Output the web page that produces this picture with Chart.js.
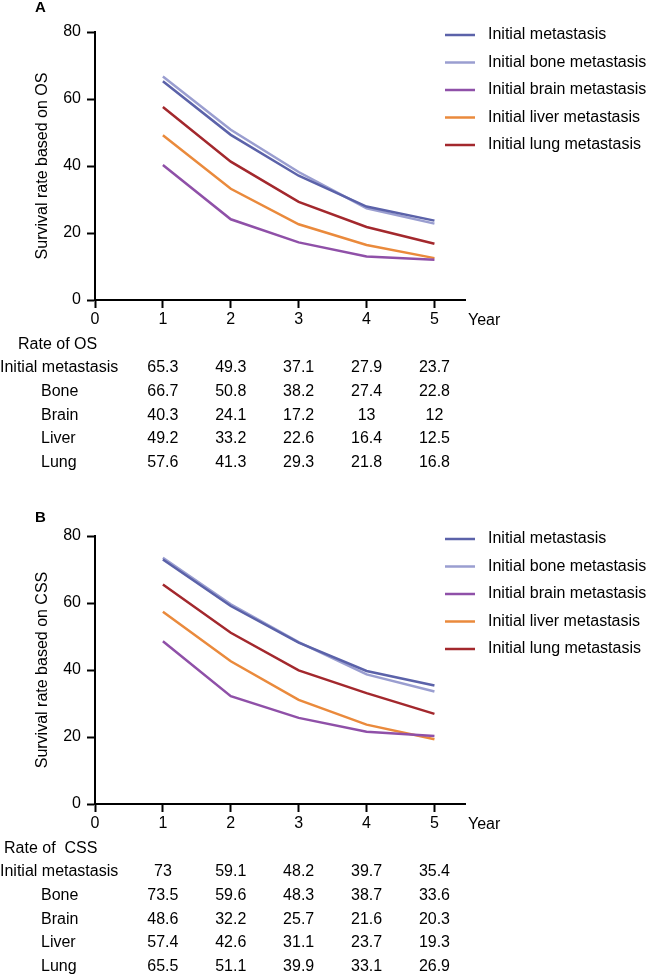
<!DOCTYPE html>
<html>
<head>
<meta charset="utf-8">
<script src="https://cdn.jsdelivr.net/npm/chart.js@4.4.0/dist/chart.umd.min.js"></script>
<style>
  html, body { margin: 0; padding: 0; background: #fff; overflow: hidden; }
  canvas { display: block; }
</style>
</head>
<body>
<canvas id="chartA" width="651" height="504"></canvas>
<canvas id="chartB" width="651" height="470"></canvas>
<script>
var years = [1, 2, 3, 4, 5];
var xTicks = [0, 1, 2, 3, 4, 5];
var yTicks = [0, 20, 40, 60, 80];
var seriesNames = ["Initial metastasis", "Initial bone metastasis", "Initial brain metastasis", "Initial liver metastasis", "Initial lung metastasis"];
var rowLabels = ["Initial metastasis", "Bone", "Brain", "Liver", "Lung"];
var colors = ["#5b62a9", "#9a9ed0", "#8f50a8", "#ea8a3c", "#a3282d"];

// rate of OS
var osInitial = [65.3, 49.3, 37.1, 27.9, 23.7];
var osBone = [66.7, 50.8, 38.2, 27.4, 22.8];
var osBrain = [40.3, 24.1, 17.2, 13, 12];
var osLiver = [49.2, 33.2, 22.6, 16.4, 12.5];
var osLung = [57.6, 41.3, 29.3, 21.8, 16.8];

// rate of CSS
var cssInitial = [73, 59.1, 48.2, 39.7, 35.4];
var cssBone = [73.5, 59.6, 48.3, 38.7, 33.6];
var cssBrain = [48.6, 32.2, 25.7, 21.6, 20.3];
var cssLiver = [57.4, 42.6, 31.1, 23.7, 19.3];
var cssLung = [65.5, 51.1, 39.9, 33.1, 26.9];

var FONT = '"Liberation Sans", Arial, sans-serif';

var extras = {
    id: 'extras',
    afterDraw: function (chart, args, o) {
        var ctx = chart.ctx;
        var xs = chart.scales.x;
        ctx.save();
        ctx.fillStyle = '#000';
        ctx.textBaseline = 'middle';
        ctx.textAlign = 'left';
        ctx.font = 'bold 15px ' + FONT;
        ctx.fillText(o.panel, 35, o.panelY);

        ctx.font = '16px ' + FONT;
        ctx.fillText('Year', 468, chart.chartArea.bottom + 21);

        // legend
        chart.data.datasets.forEach(function (ds, i) {
            var y = 35 + i * 27.5;
            ctx.strokeStyle = ds.borderColor;
            ctx.lineWidth = 2.5;
            ctx.beginPath();
            ctx.moveTo(445, y);
            ctx.lineTo(475, y);
            ctx.stroke();
            ctx.fillText(ds.label, 488, y);
        });

        // table under the axis
        ctx.fillText(o.header, o.headerX, 345);
        o.rows.forEach(function (r, i) {
            var y = 368 + i * 23.6;
            ctx.textAlign = 'left';
            ctx.fillText(rowLabels[i], i == 0 ? 0 : 41, y);
            ctx.textAlign = 'center';
            r.forEach(function (v, j) {
                ctx.fillText(String(v), xs.getPixelForValue(years[j]), y);
            });
        });
        ctx.restore();
    }
};

function makeChart(id, rows, title, header, headerX, panel, panelY) {
    var canvas = document.getElementById(id);
    var datasets = rows.map(function (r, i) {
        return {
            label: seriesNames[i],
            data: r.map(function (v, j) { return { x: years[j], y: v }; }),
            borderColor: colors[i],
            backgroundColor: colors[i],
            borderWidth: 2.5,
            pointRadius: 0,
            tension: 0,
            fill: false
        };
    });
    return new Chart(canvas, {
        type: 'line',
        data: { datasets: datasets },
        plugins: [extras],
        options: {
            responsive: false,
            animation: false,
            layout: { padding: { top: 32, left: 0, right: 186, bottom: canvas.height - 300 - 30 } },
            plugins: {
                legend: { display: false },
                tooltip: { enabled: false },
                extras: { rows: rows, header: header, headerX: headerX, panel: panel, panelY: panelY }
            },
            scales: {
                x: {
                    type: 'linear',
                    min: 0,
                    max: 5.45,
                    afterBuildTicks: function (s) { s.ticks = xTicks.map(function (v) { return { value: v }; }); },
                    afterFit: function (s) { s.height = 30; },
                    grid: { display: true, drawOnChartArea: false, drawTicks: true, tickLength: 8, tickWidth: 2, tickColor: '#000' },
                    border: { display: true, color: '#000', width: 2 },
                    ticks: { color: '#000', font: { family: FONT, size: 16 }, padding: 2, maxRotation: 0 }
                },
                y: {
                    min: 0,
                    max: 80,
                    afterBuildTicks: function (s) { s.ticks = yTicks.map(function (v) { return { value: v }; }); },
                    afterFit: function (s) { s.width = 95; },
                    grid: { display: true, drawOnChartArea: false, drawTicks: true, tickLength: 8, tickWidth: 2, tickColor: '#000' },
                    border: { display: true, color: '#000', width: 2 },
                    ticks: { color: '#000', font: { family: FONT, size: 16 }, padding: 6 },
                    title: { display: true, text: title, color: '#000', font: { family: FONT, size: 16 }, padding: { top: 33, bottom: 0 } }
                }
            }
        }
    });
}

makeChart('chartA', [osInitial, osBone, osBrain, osLiver, osLung], 'Survival rate based on OS', 'Rate of OS', 18, 'A', 8);
makeChart('chartB', [cssInitial, cssBone, cssBrain, cssLiver, cssLung], 'Survival rate based on CSS', 'Rate of  CSS', 4, 'B', 14);
</script>
</body>
</html>
